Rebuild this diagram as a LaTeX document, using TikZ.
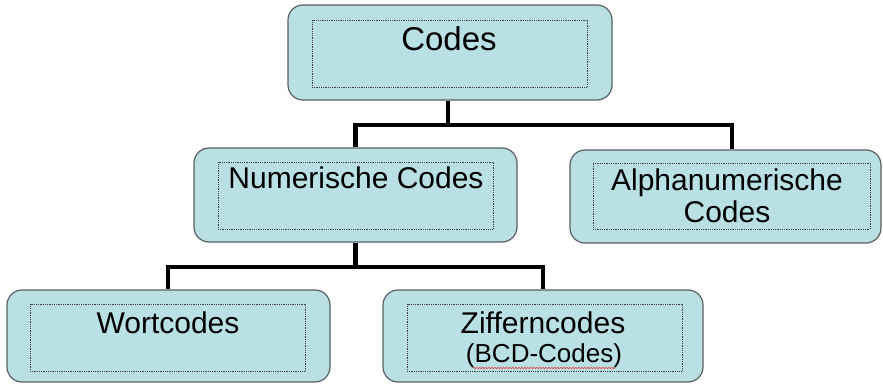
\documentclass[tikz,border=0pt]{standalone}
\usepackage{fontspec}
\setmainfont{Liberation Sans}
\usetikzlibrary{decorations.pathmorphing}
\definecolor{boxfill}{RGB}{185,224,228}
\definecolor{boxline}{RGB}{90,95,95}
\definecolor{squiggle}{RGB}{225,80,80}
\begin{document}
\begin{tikzpicture}[x=1pt,y=-1pt,
  outerbox/.style={draw=boxline,line width=1.2pt,fill=boxfill,rounded corners=15pt,inner sep=0pt},
  innerbox/.style={draw=black!75,densely dotted,line width=0.8pt,inner sep=0pt},
  label/.style={anchor=base,inner sep=0pt,font=\fontsize{30}{34}\selectfont},
  conn/.style={line width=4.6pt,black,line join=miter}]
\useasboundingbox (0,0) rectangle (883,383);
% outer boxes
\node[outerbox,minimum width=324pt,minimum height=95pt] (codes) at (450,52.5) {};
\node[outerbox,minimum width=323pt,minimum height=94pt] (num) at (355.5,195) {};
\node[outerbox,minimum width=311pt,minimum height=93pt] (alpha) at (725.5,196.5) {};
\node[outerbox,minimum width=323pt,minimum height=92pt] (wort) at (168.5,336) {};
\node[outerbox,minimum width=320pt,minimum height=92pt] (ziff) at (543,336) {};
% inner dotted boxes
\node[innerbox,minimum width=275pt,minimum height=67pt] (codesin) at (449.5,53.5) {};
\node[innerbox,minimum width=275pt,minimum height=67pt] (numin) at (355.5,195.5) {};
\node[innerbox,minimum width=277pt,minimum height=66pt] (alphain) at (731.5,196) {};
\node[innerbox,minimum width=275pt,minimum height=67pt] (wortin) at (167.5,337.5) {};
\node[innerbox,minimum width=275pt,minimum height=67pt] (ziffin) at (544.5,337.5) {};
% texts
\node[label,font=\fontsize{33}{36}\selectfont] (tcodes) at (449,50) {Codes};
\node[label] (tnum) at (356,188) {Numerische Codes};
\node[label] (talpha1) at (727,190) {Alphanumerische};
\node[label] (talpha2) at (727,222) {Codes};
\node[label] (twort) at (168,333) {Wortcodes};
\node[label] (tziff) at (543,333) {Zifferncodes};
\node[label,font=\fontsize{26}{30}\selectfont] (tbcd) at (544,362) {(BCD-Codes)};
\draw[squiggle,line width=0.7pt,decorate,decoration={snake,amplitude=0.8pt,segment length=3pt}]
  (473,368) -- (615,368);
% connectors
\coordinate (bus1) at (0,125);
\coordinate (bus2) at (0,267);
\draw[conn] ([xshift=-2pt]codes.south) -- ([xshift=-2pt]codes.south |- bus1);
\draw[conn] (num.north) |- ([xshift=6.5pt]alpha.north |- bus1) -- ([xshift=6.5pt]alpha.north);
\draw[conn] (num.south) -- (num.south |- bus2);
\draw[conn] ([xshift=-0.5pt]wort.north) |- (ziff.north |- bus2) -- (ziff.north);
\end{tikzpicture}
\end{document}
